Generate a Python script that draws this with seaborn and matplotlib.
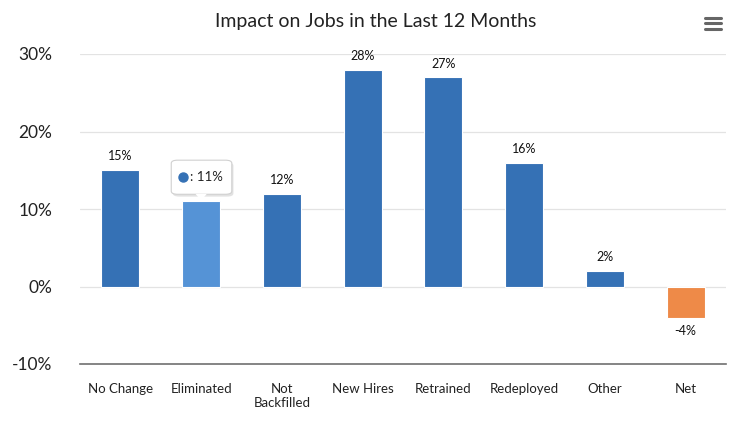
import matplotlib
matplotlib.use("Agg")
import matplotlib.pyplot as plt
import seaborn as sns
from matplotlib.patches import FancyBboxPatch, Polygon

categories = ["No Change", "Eliminated", "Not\nBackfilled", "New Hires",
              "Retrained", "Redeployed", "Other", "Net"]
values = [15, 11, 12, 28, 27, 16, 2, -4]
colors = ["#3571b5", "#5593d6", "#3571b5", "#3571b5",
          "#3571b5", "#3571b5", "#3571b5", "#ee8a48"]
yticks = [-10, 0, 10, 20, 30]
hovered = 1  # bar under the tooltip; its own label is hidden by it

sns.set_style("white")
plt.rcParams["font.family"] = ["Lato", "DejaVu Sans"]

fig = plt.figure(figsize=(7.52, 4.25), dpi=100)
ax = fig.add_axes([80 / 752, 61 / 425, 646 / 752, 310 / 425])

sns.barplot(x=categories, y=values, hue=categories, palette=colors,
            legend=False, width=0.47, ax=ax, linewidth=0.8, edgecolor="white",
            saturation=1, zorder=3)

ax.set_ylim(-10, 30)
ax.set_xlim(-0.5, len(categories) - 0.5)
ax.set_yticks(yticks)
ax.set_yticklabels([f"{t}%" for t in yticks], fontsize=12.5, color="#222222")
ax.tick_params(axis="y", length=0, pad=20)
ax.tick_params(axis="x", length=0, pad=14, labelsize=9.5, labelcolor="#222222")
ax.set_xlabel("")
ax.set_ylabel("")
for t in yticks[1:]:
    ax.axhline(t, color="#e3e3e3", lw=0.9, zorder=1)
for s in ["top", "right", "left"]:
    ax.spines[s].set_visible(False)
ax.spines["bottom"].set_color("#707070")
ax.spines["bottom"].set_linewidth(1.2)

for i, v in enumerate(values):
    if i == hovered:
        continue
    if v >= 0:
        ax.text(i, v + 1.0, f"{v}%", ha="center", va="bottom", fontsize=9,
                color="#111111")
    else:
        ax.text(i, v - 1.0, f"{v}%", ha="center", va="top", fontsize=9,
                color="#111111")

# tooltip on hovered bar
hv = values[hovered]
bx, by, bw, bh = hovered - 0.37, hv + 0.9, 0.75, 4.4
shadow = FancyBboxPatch((bx + 0.02, by - 0.3), bw, bh,
                        boxstyle="round,pad=0,rounding_size=0.08",
                        fc="#cfcfcf", ec="none", zorder=4, alpha=0.6,
                        mutation_aspect=5)
ax.add_patch(shadow)
box = FancyBboxPatch((bx, by), bw, bh,
                     boxstyle="round,pad=0,rounding_size=0.08",
                     fc="white", ec="#d0d0d0", lw=0.8, zorder=5,
                     mutation_aspect=5)
ax.add_patch(box)
ax.add_patch(Polygon([[hovered - 0.07, by + 0.05], [hovered + 0.07, by + 0.05],
                      [hovered, hv + 0.1]],
                     closed=True, fc="white", ec="none", zorder=6))
ax.plot([bx + 0.14], [by + bh / 2], marker="o", ms=6.5, color="#3571b5",
        zorder=7, clip_on=False)
ax.text(bx + 0.23, by + bh / 2, f": {hv}%", color="#222222", fontsize=9.5,
        ha="left", va="center", zorder=7)

fig.text(0.5, 0.95, "Impact on Jobs in the Last 12 Months", ha="center",
         va="center", fontsize=14, color="#222222")

# menu icon
for yy in [0.958, 0.945, 0.932]:
    fig.add_artist(plt.Line2D([705 / 752, 721 / 752], [yy, yy],
                              color="#666666", lw=2.2))

fig.savefig("out.png", dpi=100)
